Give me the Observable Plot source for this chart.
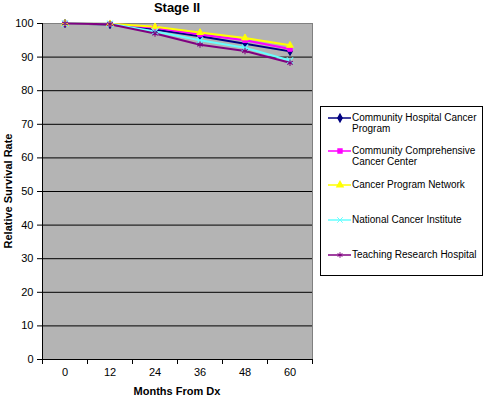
<!DOCTYPE html>
<html>
<head>
<meta charset="utf-8">
<script src="https://cdn.jsdelivr.net/npm/d3@7"></script>
<script src="https://cdn.jsdelivr.net/npm/@observablehq/plot@0.6"></script>
<style>
  html, body { margin: 0; padding: 0; background: #fff; }
  #wrap { position: relative; width: 487px; height: 398px; font-family: "Liberation Sans", Arial, sans-serif; }
  #wrap > svg { position: absolute; left: 0; top: 0; }
  .title { position: absolute; left: 112px; width: 130px; top: 0px; text-align: center; font-weight: bold; font-size: 13px; }
  .xlabel { position: absolute; left: 42px; width: 270px; top: 385px; text-align: center; font-weight: bold; font-size: 11px; line-height: 12px; }
  .ylabel { position: absolute; left: 8px; top: 191px; transform: translate(-50%, -50%) rotate(-90deg); white-space: nowrap; font-weight: bold; font-size: 11px; }
  .legend { position: absolute; left: 320px; top: 106px; width: 163px; height: 170px; border: 1px solid #000; background: #fff; box-sizing: border-box; }
  .item { position: absolute; left: 7px; display: flex; align-items: flex-start; font-size: 10px; line-height: 11px; }
  #wrap .item svg { position: static; flex: none; }
  .item span { margin-left: 1px; width: 132px; }
</style>
</head>
<body>
<div id="wrap"></div>
<script>
const months = [0, 12, 24, 36, 48, 60];
const seriesNames = [
  "Community Hospital Cancer Program",
  "Community Comprehensive Cancer Center",
  "Cancer Program Network",
  "National Cancer Institute",
  "Teaching Research Hospital"
];
const hospital      = [100, 99.7, 98.2, 96.2, 94.0, 91.7];
const comprehensive = [100, 99.9, 98.7, 96.7, 95.0, 92.4];
const network       = [100, 99.9, 99.0, 97.3, 95.7, 93.5];
const nci           = [100, 99.9, 97.6, 95.0, 92.8, 89.0];
const teaching      = [100, 99.8, 97.0, 93.7, 91.8, 88.3];
const yTicks = [0, 10, 20, 30, 40, 50, 60, 70, 80, 90, 100];

const colors  = ["#000080", "#ff00ff", "#ffff00", "#66ffff", "#800080"];
const symbols = ["diamond", "square", "triangle", "times", "asterisk"];
const filled  = [true, true, true, false, false];
const values  = [hospital, comprehensive, network, nci, teaching];

const data = [];
seriesNames.forEach((s, i) => months.forEach((m, j) => data.push({series: s, idx: i, month: m, value: values[i][j]})));

const bandEdges = months.map(m => m - 6).concat([66]);
const grid = yTicks.filter(v => v > 0 && v < 100);

const marks = [
  Plot.frame({fill: "#b4b4b4", stroke: null}),
  Plot.ruleY(grid, {stroke: "#000", strokeWidth: 1}),
  Plot.frame({stroke: "#808080"}),
  Plot.ruleY([0], {stroke: "#000"}),
  Plot.ruleX([-6], {stroke: "#000"}),
  Plot.axisY({ticks: yTicks, tickSize: 5, tickPadding: 4, fontSize: 11, label: null, stroke: "#000"}),
  Plot.axisX({ticks: months, tickSize: 0, tickPadding: 9, fontSize: 11, label: null}),
  Plot.axisX({ticks: bandEdges, tickSize: 5, tickFormat: () => "", label: null, stroke: "#000"})
];
seriesNames.forEach((s, i) => {
  const d = data.filter(r => r.idx === i);
  marks.push(Plot.line(d, {x: "month", y: "value", stroke: colors[i], strokeWidth: 2}));
});
seriesNames.forEach((s, i) => {
  const d = data.filter(r => r.idx === i);
  if (filled[i]) {
    marks.push(Plot.dot(d, {x: "month", y: "value", symbol: () => symbols[i], fill: colors[i], stroke: colors[i], r: 2.5, strokeWidth: 1}));
  } else {
    marks.push(Plot.dot(d, {x: "month", y: "value", symbol: () => symbols[i], stroke: colors[i], fill: "none", r: 3, strokeWidth: 1.1}));
  }
});

const chart = Plot.plot({
  width: 487,
  height: 398,
  marginLeft: 42,
  marginRight: 175,
  marginTop: 23,
  marginBottom: 39,
  style: {fontFamily: "'Liberation Sans', Arial, sans-serif", fontSize: "11px", color: "#000", background: "transparent"},
  x: {type: "linear", domain: [-6, 66]},
  y: {domain: [0, 100]},
  symbol: {type: "identity"},
  marks
});

const wrap = document.getElementById("wrap");
wrap.appendChild(chart);

const title = document.createElement("div");
title.className = "title"; title.textContent = "Stage II";
wrap.appendChild(title);
const xl = document.createElement("div");
xl.className = "xlabel"; xl.textContent = "Months From Dx";
wrap.appendChild(xl);
const yl = document.createElement("div");
yl.className = "ylabel"; yl.textContent = "Relative Survival Rate";
wrap.appendChild(yl);

const legend = document.createElement("div");
legend.className = "legend";
const rowTops = [5, 38, 72, 107, 142];
seriesNames.forEach((s, i) => {
  const item = document.createElement("div");
  item.className = "item";
  item.style.top = rowTops[i] + "px";
  const dotOpts = filled[i]
    ? {x: d => d[0], y: d => d[1], symbol: () => symbols[i], fill: colors[i], stroke: colors[i], r: 2.2}
    : {x: d => d[0], y: d => d[1], symbol: () => symbols[i], stroke: colors[i], fill: "none", r: 2.6, strokeWidth: 1};
  const sw = Plot.plot({
    width: 23, height: 11, margin: 0,
    x: {domain: [0, 1], axis: null}, y: {domain: [0, 1], axis: null},
    symbol: {type: "identity"},
    style: {background: "transparent", overflow: "visible"},
    marks: [
      Plot.ruleY([0.5], {x1: 0, x2: 1, stroke: colors[i], strokeWidth: 1.5}),
      Plot.dot([[0.5, 0.5]], dotOpts)
    ]
  });
  item.appendChild(sw);
  const t = document.createElement("span");
  t.textContent = s;
  item.appendChild(t);
  legend.appendChild(item);
});
wrap.appendChild(legend);
</script>
</body>
</html>
